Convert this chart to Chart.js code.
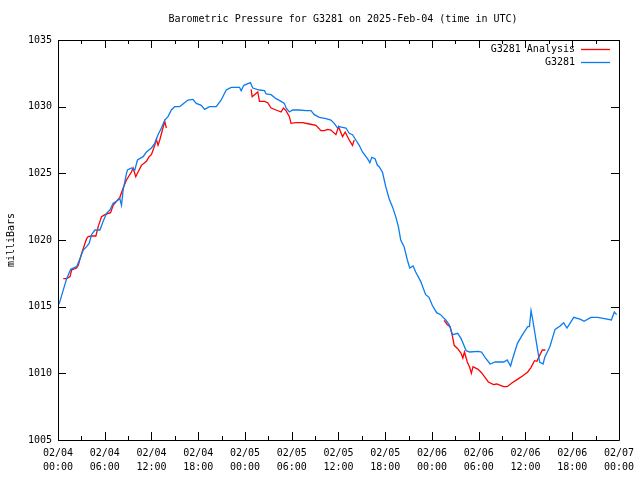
<!DOCTYPE html>
<html>
<head>
<meta charset="utf-8">
<script src="https://cdn.jsdelivr.net/npm/chart.js@4.4.1/dist/chart.umd.min.js"></script>
<style>
html,body{margin:0;padding:0;background:#fff;}
#wrap{width:640px;height:480px;position:relative;}
</style>
</head>
<body>
<div id="wrap"><canvas id="c" width="640" height="480"></canvas></div>
<script>
// Hours since 2025-02-04 00:00 UTC
const stationHours = [0,0.17,1.11,1.63,2.39,2.82,3.24,3.67,4.0,4.31,4.74,5.38,5.8,6.23,6.66,7.08,7.51,7.94,8.15,8.36,8.79,8.92,9.43,9.86,10.2,10.92,11.35,11.99,12.42,12.84,13.27,13.7,14.12,14.55,14.98,15.62,16.04,16.68,17.32,17.75,18.39,18.82,19.46,20.31,20.95,21.59,22.23,23.3,23.51,23.85,24.7,25.0,25.86,26.5,26.71,27.35,27.99,28.63,29.06,29.27,29.7,30.12,30.98,31.83,32.47,32.9,33.54,34.39,35.03,35.46,35.88,36.1,36.95,37.38,37.8,38.23,38.66,39.08,39.72,40.03,40.28,40.7,41.0,41.22,41.64,42.07,42.5,42.92,43.35,43.69,43.99,44.42,44.84,45.15,45.57,45.91,46.55,47.19,47.62,48.04,48.6,49.1,49.77,50.2,50.64,51.3,51.74,52.39,52.84,53.92,54.36,54.81,55.46,56.12,57.22,57.65,58.09,58.3,58.97,59.62,60.29,60.51,60.72,60.94,61.38,61.82,62.26,62.48,63.13,63.8,64.45,64.9,65.33,66.2,67.08,67.52,68.39,69.27,70.14,71.03,71.4,71.7];
const stationValues = [1015.1,1015.25,1017.1,1017.8,1018.0,1018.6,1019.25,1019.5,1019.75,1020.4,1020.75,1020.75,1021.4,1022.0,1022.25,1022.75,1022.9,1023.1,1022.6,1023.75,1025.0,1025.25,1025.4,1025.25,1026.0,1026.25,1026.6,1026.9,1027.25,1027.9,1028.4,1029.0,1029.25,1029.75,1030.0,1030.0,1030.2,1030.5,1030.55,1030.25,1030.1,1029.8,1030.0,1030.0,1030.5,1031.25,1031.45,1031.45,1031.2,1031.6,1031.8,1031.4,1031.25,1031.2,1030.95,1030.9,1030.6,1030.4,1030.25,1029.9,1029.6,1029.75,1029.75,1029.7,1029.7,1029.4,1029.2,1029.1,1029.0,1028.75,1028.4,1028.5,1028.4,1028.0,1027.9,1027.5,1027.1,1026.6,1026.1,1025.8,1026.2,1026.1,1025.6,1025.5,1025.1,1024.0,1023.1,1022.5,1021.75,1021.0,1020.0,1019.5,1018.5,1017.9,1018.05,1017.6,1016.9,1015.9,1015.7,1015.1,1014.55,1014.4,1014.0,1013.65,1012.9,1013.0,1012.6,1011.7,1011.6,1011.65,1011.6,1011.2,1010.7,1010.85,1010.85,1011.0,1010.55,1011.0,1012.25,1012.9,1013.5,1013.5,1014.7,1014.0,1012.4,1010.85,1010.7,1011.2,1012.0,1013.3,1013.55,1013.8,1013.4,1014.2,1014.05,1013.9,1014.2,1014.2,1014.1,1014.0,1014.6,1014.4];

// Analysis series; null marks a gap between segments
const analysisHours = [0.68,1.11,1.54,1.75,2.39,2.6,3.03,3.67,3.88,4.31,4.86,5.16,5.59,6.02,6.75,7.08,7.51,7.94,8.36,8.79,9.43,9.64,9.98,10.28,10.71,11.35,11.69,11.99,12.42,12.63,12.84,13.06,13.4,13.7,13.91,
  19.0,
  24.79,24.92,25.22,25.64,25.86,26.5,26.92,27.35,27.99,28.63,28.93,29.27,29.7,29.91,30.55,31.4,32.26,33.11,33.75,34.18,34.6,35.03,35.67,36.01,36.52,36.86,37.38,37.8,38.02,
  44.0,
  49.55,49.98,50.33,50.64,50.85,51.3,51.74,51.96,52.17,52.53,52.84,53.06,53.27,53.92,54.36,54.81,55.24,55.9,56.33,56.78,57.22,57.65,58.3,58.97,59.62,60.29,60.72,61.16,61.47,61.82,62.17,62.56];
const analysisValues = [1017.1,1017.1,1017.25,1017.75,1017.9,1018.1,1019.0,1020.1,1020.25,1020.3,1020.3,1021.0,1021.75,1021.9,1022.05,1022.6,1022.9,1023.2,1023.9,1024.5,1025.1,1025.4,1024.75,1025.1,1025.6,1025.9,1026.25,1026.4,1027.1,1027.55,1027.1,1027.5,1028.25,1028.9,1028.4,
  null,
  1031.3,1030.75,1030.9,1031.1,1030.4,1030.4,1030.3,1029.9,1029.75,1029.6,1029.9,1029.7,1029.25,1028.75,1028.8,1028.8,1028.7,1028.6,1028.2,1028.2,1028.3,1028.25,1027.9,1028.5,1027.75,1028.1,1027.5,1027.1,1027.5,
  null,
  1013.97,1013.65,1013.5,1012.75,1012.1,1011.85,1011.5,1011.15,1011.6,1010.85,1010.45,1010.0,1010.5,1010.3,1010.05,1009.7,1009.35,1009.15,1009.2,1009.1,1009.0,1009.0,1009.3,1009.55,1009.8,1010.1,1010.45,1010.95,1010.9,1011.35,1011.75,1011.75];

const xTickLabels = [["02/04","00:00"],["02/04","06:00"],["02/04","12:00"],["02/04","18:00"],["02/05","00:00"],["02/05","06:00"],["02/05","12:00"],["02/05","18:00"],["02/06","00:00"],["02/06","06:00"],["02/06","12:00"],["02/06","18:00"],["02/07","00:00"]];
const yTicks = [1005,1010,1015,1020,1025,1030,1035];
const seriesNames = ["G3281 Analysis","G3281"];
const seriesColors = ["#ff0000","#0a7cf0"];
const titleText = "Barometric Pressure for G3281 on 2025-Feb-04 (time in UTC)";
const yTitle = "milliBars";

const FONT = "'DejaVu Sans Mono', 'Liberation Mono', monospace";

const toXY = (xs, ys) => xs.map((x, i) => ({x: x, y: ys[i]}));

const framePlugin = {
  id: 'frame',
  afterDatasetsDraw(chart) {
    const ctx = chart.ctx, a = chart.chartArea;
    const xs = chart.scales.x, ys = chart.scales.y;
    ctx.save();
    ctx.strokeStyle = '#000';
    ctx.lineWidth = 1;
    ctx.beginPath();
    ctx.rect(Math.round(a.left) + 0.5, Math.round(a.top) + 0.5, Math.round(a.right - a.left), Math.round(a.bottom - a.top));
    ctx.stroke();
    ctx.beginPath();
    // x ticks (major every 6h, minor every 3h), inward, mirrored
    for (let h = 0; h <= 72; h += 3) {
      const px = Math.round(xs.getPixelForValue(h)) + 0.5;
      const len = (h % 6 === 0) ? 8 : 4;
      ctx.moveTo(px, a.bottom); ctx.lineTo(px, a.bottom - len);
      ctx.moveTo(px, a.top); ctx.lineTo(px, a.top + len);
    }
    yTicks.forEach(v => {
      const py = Math.round(ys.getPixelForValue(v)) + 0.5;
      ctx.moveTo(a.left, py); ctx.lineTo(a.left + 8, py);
      ctx.moveTo(a.right, py); ctx.lineTo(a.right - 8, py);
    });
    ctx.stroke();

    // title
    ctx.fillStyle = '#000';
    ctx.font = '10px ' + FONT;
    ctx.textAlign = 'center';
    ctx.textBaseline = 'middle';
    ctx.fillText(titleText, 343, 19);
    // y title
    ctx.save();
    ctx.translate(11, 240);
    ctx.rotate(-Math.PI / 2);
    ctx.fillText(yTitle, 0, 0);
    ctx.restore();
    // legend
    ctx.textAlign = 'right';
    ctx.lineWidth = 1.3;
    seriesNames.forEach((n, i) => {
      const y = 49 + i * 13;
      ctx.fillStyle = '#000';
      ctx.fillText(n, 575, y);
      ctx.strokeStyle = seriesColors[i];
      ctx.beginPath();
      ctx.moveTo(581, y + 0.5); ctx.lineTo(610, y + 0.5);
      ctx.stroke();
    });
    ctx.restore();
  }
};

new Chart(document.getElementById('c'), {
  type: 'line',
  data: {
    datasets: [
      {label: seriesNames[0], data: toXY(analysisHours, analysisValues), borderColor: seriesColors[0], borderWidth: 1.3, pointRadius: 0, spanGaps: false, tension: 0, order: 2},
      {label: seriesNames[1], data: toXY(stationHours, stationValues), borderColor: seriesColors[1], borderWidth: 1.3, pointRadius: 0, tension: 0, order: 1}
    ]
  },
  plugins: [framePlugin],
  options: {
    responsive: false,
    animation: false,
    events: [],
    layout: {padding: {top: 40, right: 19.5, left: 0, bottom: 0}},
    plugins: {legend: {display: false}, title: {display: false}, tooltip: {enabled: false}},
    scales: {
      x: {
        type: 'linear', min: 0, max: 72,
        afterFit(s) { s.height = 40; },
        afterBuildTicks(s) { s.ticks = xTickLabels.map((_, i) => ({value: i * 6})); },
        ticks: {
          autoSkip: false, maxRotation: 0, padding: 6,
          color: '#000', font: {family: FONT, size: 10, lineHeight: 1.4},
          callback: (v) => xTickLabels[Math.round(v / 6)]
        },
        grid: {display: true, drawOnChartArea: false, drawTicks: false},
        border: {display: false}
      },
      y: {
        type: 'linear', min: 1005, max: 1035,
        afterFit(s) { s.width = 58; },
        afterBuildTicks(s) { s.ticks = yTicks.map(v => ({value: v})); },
        ticks: {padding: 6, color: '#000', font: {family: FONT, size: 10}, callback: v => String(v)},
        grid: {display: true, drawOnChartArea: false, drawTicks: false},
        border: {display: false}
      }
    }
  }
});
</script>
</body>
</html>
